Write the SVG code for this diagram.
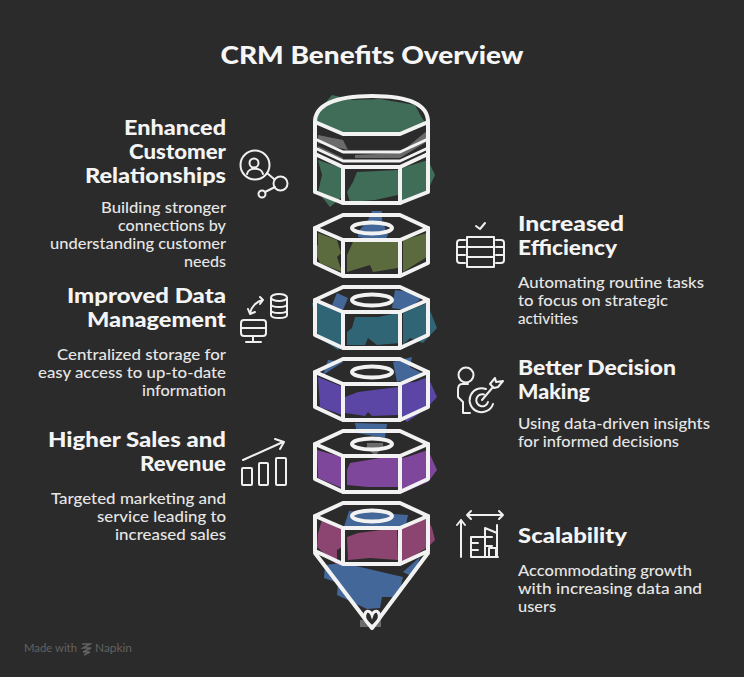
<svg xmlns="http://www.w3.org/2000/svg" xmlns:xlink="http://www.w3.org/1999/xlink" width="744" height="677" viewBox="0 0 744 677">
<style>
.h{font:900 20px Lato,"Liberation Sans",sans-serif;fill:#f4f4f4}
.d{font:500 14.5px Lato,"Liberation Sans",sans-serif;fill:#e6e6e6}
.t{font:900 25px Lato,"Liberation Sans",sans-serif;fill:#f6f6f6}
.e{text-anchor:end}
.m{font:400 12px Lato,"Liberation Sans",sans-serif;fill:#626262}
.o{fill:none;stroke:#f2f2f2;stroke-width:4;stroke-linejoin:round;stroke-linecap:round}
.i{fill:none;stroke:#f0f0f0;stroke-width:2;stroke-linejoin:round;stroke-linecap:round}
.blue{fill:#44679a}.green{fill:#3f6d57}.olive{fill:#5b6b3d}.teal{fill:#2f6575}.purple{fill:#5b45a5}.violet{fill:#7e479b}.mag{fill:#8c4570}.gray{fill:#6b6b6b}
</style>
<defs>
<g id="nut" class="o">
<path d="M315,13L343,0H400L428,13L400,25H343Z"/>
<path d="M315,13V48L343,61H400L428,48V13M343,25V61M400,25V61"/>
<ellipse cx="372" cy="13" rx="20" ry="5.5"/>
</g>
</defs>
<rect width="744" height="677" fill="#2b2b2b"/>
<text class="t" x="372" y="64" text-anchor="middle" textLength="303" lengthAdjust="spacingAndGlyphs">CRM Benefits Overview</text>

<g id="stack-fills">
<polygon class="blue" points="372,211 382,211 382,220 388,235 383,243 380,241 358,237 358,232 368,220"/>
<polygon class="blue" points="337,293 348,298 343,310 332,305"/>
<polygon class="blue" points="395,290 417,293 420,300 405,310 392,308"/>
<polygon class="blue" points="328,360 343,362 323,375"/>
<polygon class="blue" points="393,362 412,357 410,367 425,375 397,382"/>
<polygon class="blue" points="355,423 387,424 385,438 357,433"/>
<polygon class="blue" points="349,511 408,515 405,530 343,530"/>
<polygon class="blue" points="325,565 324,578 338,583 337,595 367,609 380,608 382,597 398,597 403,577 343,563"/>
<polygon class="blue" points="403,572 413,577 418,563 420,557"/>
<polygon class="gray" points="367,443 383,443 383,447 375,456 367,447"/>
<polygon class="gray" points="360,620 381,620 381,627 360,627"/>
<polygon class="gray" points="318,135 343,140 348,150 318,143"/>
<polygon class="gray" points="355,155 400,153 428,130 428,141 400,158 355,158"/>
<polygon class="gray" points="318,146 343,158 343,161 318,151"/>
</g>

<g id="node-top">
<polygon class="green" points="313,117 332,95 353,100 380,99 415,105 422,118 427,125 400,135 343,135 317,123"/>
<polygon class="green" points="318,160 342,168 342,197 330,207 318,192 322,175"/>
<polygon class="green" points="347,192 353,182 357,172 398,170 398,195 375,200 350,202"/>
<polygon class="green" points="402,168 428,160 435,175 427,192 402,203"/>
<g class="o">
<path d="M315,122C315,105 335,96 372,96C409,96 428,105 428,122V192L400,203H343L315,192Z"/>
<path d="M315,122L343,134H400L428,122"/>
<path d="M315,139L343,152H400L428,139" stroke-width="3"/>
<path d="M315,148L343,161H400L428,148" stroke-width="3"/>
<path d="M315,154L343,167H400L428,154"/>
<path d="M343,167V203M400,167V203"/>
</g>
</g>

<g id="node-efficiency">
<polygon class="olive" points="318,233 337,240 341,253 337,257 342,272 320,263 313,248 318,245"/>
<polygon class="olive" points="353,242 398,242 398,268 373,272 370,265 347,272 347,255"/>
<polygon class="olive" points="403,240 427,233 430,255 403,272"/>
<use xlink:href="#nut" href="#nut" transform="translate(0,215)"/>
</g>
<g id="node-data">
<polygon class="teal" points="312,303 320,302 343,313 343,345 338,350 318,337"/>
<polygon class="teal" points="347,332 352,328 355,317 378,317 397,313 400,317 400,343 377,345 368,338 365,345 347,345"/>
<polygon class="teal" points="403,313 427,303 437,328 423,343 410,338 403,345"/>
<use xlink:href="#nut" href="#nut" transform="translate(0,287)"/>
</g>
<g id="node-decision">
<polygon class="purple" points="318,377 343,387 342,415 320,407"/>
<polygon class="purple" points="345,397 358,392 398,387 398,415 372,416 368,412 365,416 345,413"/>
<polygon class="purple" points="402,383 415,382 428,377 437,397 427,408 407,422 402,417"/>
<use xlink:href="#nut" href="#nut" transform="translate(0,359)"/>
</g>
<g id="node-sales">
<polygon class="violet" points="317,450 342,457 342,488 318,478"/>
<polygon class="violet" points="347,470 350,463 380,458 398,458 398,487 368,487 347,485"/>
<polygon class="violet" points="402,458 407,457 428,450 437,470 428,482 402,493"/>
<use xlink:href="#nut" href="#nut" transform="translate(0,431)"/>
</g>
<g id="node-scalability">
<polygon class="mag" points="322,520 342,530 342,547 337,550 337,565 317,547 318,533"/>
<polygon class="mag" points="347,537 358,533 397,528 398,560 370,558 348,560"/>
<polygon class="mag" points="402,527 427,518 432,528 435,540 428,547 402,563"/>
<use xlink:href="#nut" href="#nut" transform="translate(0,503)"/>
<path class="o" d="M315,553L372,628L428,553"/>
<path d="M366,612C363,616 364,620 372,627C380,620 381,616 378,612C376,610 373,612 372,615C371,612 368,610 366,612Z" fill="#2b2b2b" stroke="#f2f2f2" stroke-width="3"/>
</g>

<g id="label-relationships">
<text class="h e" x="226" y="135" textLength="102" lengthAdjust="spacingAndGlyphs">Enhanced</text>
<text class="h e" x="226" y="159" textLength="97" lengthAdjust="spacingAndGlyphs">Customer</text>
<text class="h e" x="226" y="183" textLength="141" lengthAdjust="spacingAndGlyphs">Relationships</text>
<text class="d e" x="226" y="213" textLength="125" lengthAdjust="spacingAndGlyphs">Building stronger</text>
<text class="d e" x="226" y="231" textLength="108" lengthAdjust="spacingAndGlyphs">connections by</text>
<text class="d e" x="226" y="249" textLength="176" lengthAdjust="spacingAndGlyphs">understanding customer</text>
<text class="d e" x="226" y="267" textLength="42" lengthAdjust="spacingAndGlyphs">needs</text>
<g class="i">
<circle cx="255" cy="165" r="14.5"/><ellipse cx="254" cy="163" rx="4.5" ry="4.5"/>
<path d="M247,174C248,167 262,167 263,174M267,173L274,179M275,187L265,192"/>
<circle cx="280.5" cy="183.5" r="7"/><circle cx="262" cy="194" r="3.5"/>
</g>
</g>
<g id="label-data">
<text class="h e" x="226" y="303" textLength="159" lengthAdjust="spacingAndGlyphs">Improved Data</text>
<text class="h e" x="226" y="327" textLength="139" lengthAdjust="spacingAndGlyphs">Management</text>
<text class="d e" x="226" y="360" textLength="169" lengthAdjust="spacingAndGlyphs">Centralized storage for</text>
<text class="d e" x="226" y="378" textLength="188" lengthAdjust="spacingAndGlyphs">easy access to up-to-date</text>
<text class="d e" x="226" y="396" textLength="84" lengthAdjust="spacingAndGlyphs">information</text>
<g class="i">
<rect x="241" y="320" width="25" height="16" rx="3"/>
<path d="M241,328H266M253,336V342M246,342H261"/>
<ellipse cx="279" cy="297.500" rx="8" ry="3.500"/>
<path d="M271,298V315C271,319 287,319 287,315V298M271,304C271,308 287,308 287,304M271,310C271,314 287,314 287,310"/>
<path d="M250,313C251,307 257,301 263,300M248,309L250,314L255,312M260,297L263,300L260,304"/>
</g>
</g>
<g id="label-sales">
<text class="h e" x="226" y="447" textLength="178" lengthAdjust="spacingAndGlyphs">Higher Sales and</text>
<text class="h e" x="226" y="471" textLength="86" lengthAdjust="spacingAndGlyphs">Revenue</text>
<text class="d e" x="226" y="504" textLength="175" lengthAdjust="spacingAndGlyphs">Targeted marketing and</text>
<text class="d e" x="226" y="522" textLength="129" lengthAdjust="spacingAndGlyphs">service leading to</text>
<text class="d e" x="226" y="540" textLength="111" lengthAdjust="spacingAndGlyphs">increased sales</text>
<g class="i">
<rect x="242" y="468" width="10" height="17" rx="1"/><rect x="259" y="463" width="9" height="22" rx="1"/><rect x="276" y="458" width="10" height="27" rx="1"/>
<path d="M243,460L283,442M275,439L284,442L280,449"/>
</g>
</g>
<g id="label-efficiency">
<text class="h" x="518" y="231" textLength="106" lengthAdjust="spacingAndGlyphs">Increased</text>
<text class="h" x="518" y="255" textLength="99" lengthAdjust="spacingAndGlyphs">Efficiency</text>
<text class="d" x="518" y="288" textLength="186" lengthAdjust="spacingAndGlyphs">Automating routine tasks</text>
<text class="d" x="518" y="306" textLength="150" lengthAdjust="spacingAndGlyphs">to focus on strategic</text>
<text class="d" x="518" y="324" textLength="60" lengthAdjust="spacingAndGlyphs">activities</text>
<g class="i">
<path d="M476,226L480,229L485,223"/>
<rect x="467" y="237" width="27" height="30"/><path d="M467,247H494M467,257H494"/>
<path d="M465,240H460Q457,240 457,243V260Q457,263 460,263H465M457,247H465M457,255H465"/>
<path d="M496,240H501Q504,240 504,243V260Q504,263 501,263H496M504,247H496M504,255H496"/>
</g>
</g>
<g id="label-decision">
<text class="h" x="518" y="375" textLength="158" lengthAdjust="spacingAndGlyphs">Better Decision</text>
<text class="h" x="518" y="399" textLength="72" lengthAdjust="spacingAndGlyphs">Making</text>
<text class="d" x="518" y="429" textLength="192" lengthAdjust="spacingAndGlyphs">Using data-driven insights</text>
<text class="d" x="518" y="447" textLength="161" lengthAdjust="spacingAndGlyphs">for informed decisions</text>
<g class="i">
<circle cx="466" cy="375" r="7.500"/>
<path d="M468,384H462Q458,384 458,390V397L463,402V413H470"/>
<path d="M486,389A12,12 0 1 0 493,404M484,394.500A6,6 0 1 0 488,402"/>
<path d="M482,400L493,387M490,384L495,378L496,382L503,381L498,387L494,388Z"/>
</g>
</g>
<g id="label-scalability">
<text class="h" x="518" y="543" textLength="109" lengthAdjust="spacingAndGlyphs">Scalability</text>
<text class="d" x="518" y="576" textLength="174" lengthAdjust="spacingAndGlyphs">Accommodating growth</text>
<text class="d" x="518" y="594" textLength="184" lengthAdjust="spacingAndGlyphs">with increasing data and</text>
<text class="d" x="518" y="612" textLength="38" lengthAdjust="spacingAndGlyphs">users</text>
<g class="i">
<path d="M467,515H503M471,511L467,515L471,519M499,511L503,515L499,519"/>
<path d="M461,557V520M457,525L461,520L465,525"/>
<path d="M471,557V537H485M471,543H478M471,550H478M485,557V528L497,533V525M497,533V557M489,557V548H496V557M485,537H492M485,546H492M471,557H498"/>
</g>
</g>
<g id="watermark">
<text class="m" x="24" y="652" textLength="53" lengthAdjust="spacingAndGlyphs">Made with</text>
<path d="M82,644H90L83,648H91L83,652H90L84,655" fill="none" stroke="#626262" stroke-width="1.500"/>
<text class="m" x="95" y="652" textLength="37" lengthAdjust="spacingAndGlyphs">Napkin</text>
</g>
</svg>
